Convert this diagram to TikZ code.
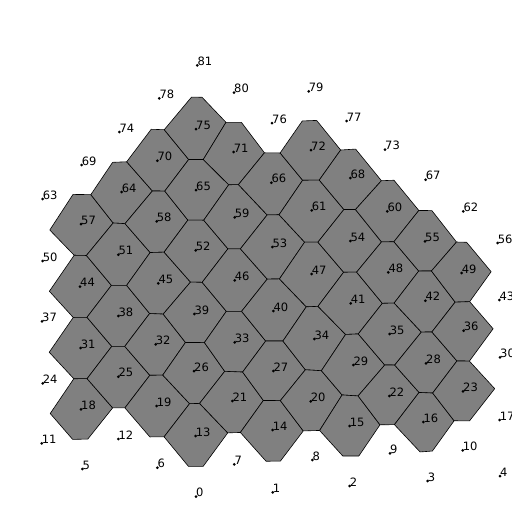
\documentclass[tikz,border=0pt]{standalone}
\usepackage{fontspec}
\setmainfont{DejaVu Sans}
\usetikzlibrary{calc}
\definecolor{cellgray}{RGB}{128,128,128}
\tikzset{
  cellst/.style={fill=cellgray,draw=black,line width=0.6pt,line join=round},
  lbl/.style={anchor=base west,inner sep=0pt,font=\fontsize{11.5}{13}\selectfont},
  dotst/.style={fill=black}
}
\newcommand\ccpt[4]{%
  \coordinate (m1) at ($(p#2)!0.5!(p#3)$);
  \coordinate (n1) at ($(m1)!1!90:(p#3)$);
  \coordinate (m2) at ($(p#2)!0.5!(p#4)$);
  \coordinate (n2) at ($(m2)!1!90:(p#4)$);
  \coordinate (#1) at (intersection of m1--n1 and m2--n2);
}
\newcommand\vcell[7]{%
  \ccpt{c1}{#1}{#2}{#3}
  \ccpt{c2}{#1}{#3}{#4}
  \ccpt{c3}{#1}{#4}{#5}
  \ccpt{c4}{#1}{#5}{#6}
  \ccpt{c5}{#1}{#6}{#7}
  \ccpt{c6}{#1}{#7}{#2}
  \filldraw[cellst] (c1)--(c2)--(c3)--(c4)--(c5)--(c6)--cycle;
}
\begin{document}
\begin{tikzpicture}[x=1pt,y=-1pt]
\fill[white] (0,0) rectangle (512,512);
\path[use as bounding box] (0,0) rectangle (512,512);
\foreach \i/\x/\y in {0/196/496.7,1/272.7/492.3,2/349.7/486,3/427.7/481,4/500/476,
 5/82.3/469,6/157.3/467.7,7/234.3/464.3,8/312.3/460,9/390/453.3,10/462.7/450.3,
 11/41.7/443.3,12/118.3/439,13/195.7/436,14/272.7/430,15/349.7/426,16/423.3/422,
 17/499.7/420,18/81/409.3,19/156.7/406,20/310.7/401.3,21/232.3/401,22/389.3/396,
 23/463/391.3,24/42.7/383.3,25/118.3/376.7,26/194/371,27/273.3/371,28/426/363.3,
 29/353.3/365,30/500/357.3,31/80.7/348,32/155.7/344.3,33/234.7/342.3,34/314.3/339,
 35/389.7/334,36/463.7/330.7,37/42/321.3,38/118.3/316,39/194.3/314,40/273.3/311,
 41/350.7/303.3,42/425.3/300.7,43/499.3/300,44/80/286.7,45/158.3/283.3,46/234.7/280.3,
 47/311.7/274,48/388.3/272.3,49/461.7/273,50/42.7/261,51/118.3/254.7,52/195.7/250.3,
 53/272.3/247,54/350.3/241,55/425/241.3,56/497.7/243,57/81/224,58/156.7/221.3,
 59/234.7/217.3,60/387.3/211.3,61/311.7/210.3,62/463.3/211.3,63/42.7/199,64/121.7/192,
 65/196/190,66/271.3/182.7,67/425.7/179.7,68/350.3/178,69/81.7/165,70/157.3/160.7,
 71/233.7/152,72/311/150,73/385/149.7,74/119.3/132,75/196/129,76/272/123,
 77/346.7/121,78/159.3/98.3,79/308.7/91.3,80/234/92.7,81/197.3/65.3}
  {\coordinate (p\i) at (\x,\y);}
% cells: P U UR LR D LL UL
\vcell{57}{69}{64}{51}{44}{50}{63}
\vcell{44}{57}{51}{38}{31}{37}{50}
\vcell{31}{44}{38}{25}{18}{24}{37}
\vcell{18}{31}{25}{12}{5}{11}{24}
\vcell{64}{74}{70}{58}{51}{57}{69}
\vcell{51}{64}{58}{45}{38}{44}{57}
\vcell{38}{51}{45}{32}{25}{31}{44}
\vcell{25}{38}{32}{19}{12}{18}{31}
\vcell{70}{78}{75}{65}{58}{64}{74}
\vcell{58}{70}{65}{52}{45}{51}{64}
\vcell{45}{58}{52}{39}{32}{38}{51}
\vcell{32}{45}{39}{26}{19}{25}{38}
\vcell{19}{32}{26}{13}{6}{12}{25}
\vcell{75}{81}{80}{71}{65}{70}{78}
\vcell{65}{75}{71}{59}{52}{58}{70}
\vcell{52}{65}{59}{46}{39}{45}{58}
\vcell{39}{52}{46}{33}{26}{32}{45}
\vcell{26}{39}{33}{21}{13}{19}{32}
\vcell{13}{26}{21}{7}{0}{6}{19}
\vcell{71}{80}{76}{66}{59}{65}{75}
\vcell{59}{71}{66}{53}{46}{52}{65}
\vcell{46}{59}{53}{40}{33}{39}{52}
\vcell{33}{46}{40}{27}{21}{26}{39}
\vcell{21}{33}{27}{14}{7}{13}{26}
\vcell{66}{76}{72}{61}{53}{59}{71}
\vcell{53}{66}{61}{47}{40}{46}{59}
\vcell{40}{53}{47}{34}{27}{33}{46}
\vcell{27}{40}{34}{20}{14}{21}{33}
\vcell{14}{27}{20}{8}{1}{7}{21}
\vcell{72}{79}{77}{68}{61}{66}{76}
\vcell{61}{72}{68}{54}{47}{53}{66}
\vcell{47}{61}{54}{41}{34}{40}{53}
\vcell{34}{47}{41}{29}{20}{27}{40}
\vcell{20}{34}{29}{15}{8}{14}{27}
\vcell{68}{77}{73}{60}{54}{61}{72}
\vcell{54}{68}{60}{48}{41}{47}{61}
\vcell{41}{54}{48}{35}{29}{34}{47}
\vcell{29}{41}{35}{22}{15}{20}{34}
\vcell{15}{29}{22}{9}{2}{8}{20}
\vcell{60}{73}{67}{55}{48}{54}{68}
\vcell{48}{60}{55}{42}{35}{41}{54}
\vcell{35}{48}{42}{28}{22}{29}{41}
\vcell{22}{35}{28}{16}{9}{15}{29}
\vcell{55}{67}{62}{49}{42}{48}{60}
\vcell{42}{55}{49}{36}{28}{35}{48}
\vcell{28}{42}{36}{23}{16}{22}{35}
\vcell{16}{28}{23}{10}{3}{9}{22}
\vcell{49}{62}{56}{43}{36}{42}{55}
\vcell{36}{49}{43}{30}{23}{28}{42}
\vcell{23}{36}{30}{17}{10}{16}{28}
\foreach \i in {0,...,81}{
  \fill[dotst] (p\i) circle (1.5pt);
  \node[lbl] (l\i) at (p\i) {\i};
}
\end{tikzpicture}
\end{document}
